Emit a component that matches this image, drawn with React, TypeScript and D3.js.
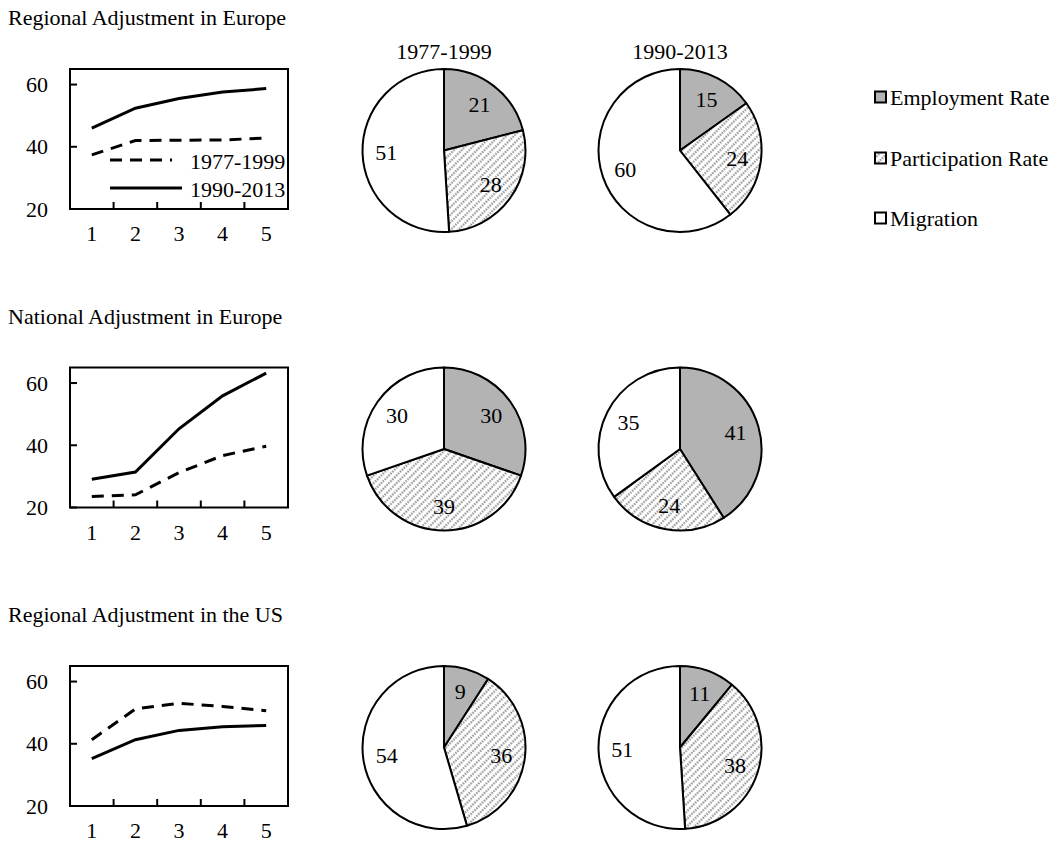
import React from "react";
import * as d3 from "d3";

// ---------- data ----------
const panelTitles = [
  "Regional Adjustment in Europe",
  "National Adjustment in Europe",
  "Regional Adjustment in the US",
];
const periods = ["1977-1999", "1990-2013"];
const components = ["Employment Rate", "Participation Rate", "Migration"];
const xCategories = [1, 2, 3, 4, 5];
const yTicks = [20, 40, 60];

// line series (period 1977-1999 dashed, 1990-2013 solid)
const regionalEurope1977 = [37.4, 42.0, 42.1, 42.2, 42.8];
const regionalEurope1990 = [46.0, 52.4, 55.5, 57.6, 58.7];
const nationalEurope1977 = [23.5, 24.1, 31.2, 36.7, 39.7];
const nationalEurope1990 = [29.1, 31.4, 45.3, 55.9, 63.2];
const regionalUS1977 = [41.3, 51.2, 53.0, 52.0, 50.6];
const regionalUS1990 = [35.2, 41.3, 44.3, 45.5, 45.9];

// pie shares: employment, participation, migration
const pieRegionalEurope1977 = [21, 28, 51];
const pieRegionalEurope1990 = [15, 24, 60];
const pieNationalEurope1977 = [30, 39, 30];
const pieNationalEurope1990 = [41, 24, 35];
const pieRegionalUS1977 = [9, 36, 54];
const pieRegionalUS1990 = [11, 38, 51];

const lineSeries = [
  [regionalEurope1977, regionalEurope1990],
  [nationalEurope1977, nationalEurope1990],
  [regionalUS1977, regionalUS1990],
];
const pieSeries = [
  [pieRegionalEurope1977, pieRegionalEurope1990],
  [pieNationalEurope1977, pieNationalEurope1990],
  [pieRegionalUS1977, pieRegionalUS1990],
];

// ---------- layout ----------
const FONT = "'Liberation Serif', 'Times New Roman', serif";
const FS = 22;
const ROW_STEP = 298.5;
const BOX = { left: 70, right: 288, top: 69, bottom: 209 };
const PIE_CX = [444, 680];
const PIE_CY = 150.5;
const PIE_R = 81.5;
const GRAY = "#b3b3b3";

function LinePanel({ row }: { row: number }) {
  const dy = row * ROW_STEP;
  const x = d3
    .scaleBand<number>()
    .domain(xCategories)
    .range([BOX.left, BOX.right])
    .padding(0);
  const y = d3
    .scaleLinear()
    .domain([20, 65])
    .range([BOX.bottom + dy, BOX.top + dy]);
  const line = d3
    .line<number>()
    .x((_, i) => (x(xCategories[i]) as number) + x.bandwidth() / 2)
    .y((v) => y(v));
  const [s77, s90] = lineSeries[row];
  return (
    <g>
      <text x={8} y={25 + dy} fontSize={FS} fontFamily={FONT}>
        {panelTitles[row]}
      </text>
      <rect
        x={BOX.left}
        y={BOX.top + dy}
        width={BOX.right - BOX.left}
        height={BOX.bottom - BOX.top}
        fill="white"
        stroke="black"
        strokeWidth={2}
      />
      {yTicks.map((t) => (
        <g key={t}>
          <line x1={BOX.left} x2={BOX.left + 7} y1={y(t)} y2={y(t)} stroke="black" strokeWidth={2} />
          <text
            x={48}
            y={y(t) + 7.5}
            textAnchor="end"
            fontSize={FS}
            fontFamily={FONT}
          >
            {t}
          </text>
        </g>
      ))}
      {xCategories.slice(1).map((c) => (
        <line
          key={c}
          x1={x(c)}
          x2={x(c)}
          y1={BOX.bottom + dy}
          y2={BOX.bottom + dy - 7}
          stroke="black"
          strokeWidth={2}
        />
      ))}
      {xCategories.map((c) => (
        <text
          key={c}
          x={(x(c) as number) + x.bandwidth() / 2}
          y={BOX.bottom + dy + 32}
          textAnchor="middle"
          fontSize={FS}
          fontFamily={FONT}
        >
          {c}
        </text>
      ))}
      <path d={line(s77) || ""} fill="none" stroke="black" strokeWidth={3} strokeDasharray="12,8" />
      <path d={line(s90) || ""} fill="none" stroke="black" strokeWidth={3} />
      {row === 0 && (
        <g>
          <line x1={110} x2={172} y1={160} y2={160} stroke="black" strokeWidth={3} strokeDasharray="12,8" />
          <text x={190} y={169} fontSize={FS} fontFamily={FONT}>
            {periods[0]}
          </text>
          <line x1={110} x2={182} y1={188} y2={188} stroke="black" strokeWidth={3} />
          <text x={190} y={197} fontSize={FS} fontFamily={FONT}>
            {periods[1]}
          </text>
        </g>
      )}
    </g>
  );
}

const fills = [GRAY, "url(#hatch)", "white"];

function PiePanel({ row, col }: { row: number; col: number }) {
  const cx = PIE_CX[col];
  const cy = PIE_CY + row * ROW_STEP;
  const values = pieSeries[row][col];
  const pie = d3
    .pie<number>()
    .sort(null)
    .startAngle(0)
    .endAngle(2 * Math.PI);
  const arcs = pie(values);
  const arc = d3.arc<d3.PieArcDatum<number>>().innerRadius(0).outerRadius(PIE_R);
  const labelArc = d3
    .arc<d3.PieArcDatum<number>>()
    .innerRadius(PIE_R * 0.71)
    .outerRadius(PIE_R * 0.71);
  return (
    <g transform={`translate(${cx},${cy})`}>
      {row === 0 && (
        <text x={0} y={-PIE_R - 10} textAnchor="middle" fontSize={FS} fontFamily={FONT}>
          {periods[col]}
        </text>
      )}
      {arcs.map((a, i) => (
        <path key={i} d={arc(a) || ""} fill={fills[i]} stroke="black" strokeWidth={2} strokeLinejoin="round" />
      ))}
      {arcs.map((a, i) => {
        const [lx, ly] = labelArc.centroid(a);
        return (
          <text
            key={"t" + i}
            x={lx}
            y={ly}
            textAnchor="middle"
            dominantBaseline="central"
            fontSize={FS}
            fontFamily={FONT}
          >
            {a.data}
          </text>
        );
      })}
    </g>
  );
}

function Legend() {
  const ys = [97, 158, 218];
  return (
    <g>
      {components.map((c, i) => (
        <g key={c}>
          <rect x={875} y={ys[i] - 5.5} width={11} height={11} fill={fills[i]} stroke="black" strokeWidth={2} />
          <text x={890} y={ys[i]} dominantBaseline="central" fontSize={FS} fontFamily={FONT}>
            {c}
          </text>
        </g>
      ))}
    </g>
  );
}

export default function App() {
  return (
    <svg
      width={1056}
      height={850}
      style={{ position: "absolute", left: 0, top: 0, background: "white" }}
    >
      <defs>
        <pattern
          id="hatch"
          patternUnits="userSpaceOnUse"
          width={5.4}
          height={5.4}
          patternTransform="rotate(45)"
        >
          <rect width={5.4} height={5.4} fill="white" />
          <line x1={1.4} y1={0} x2={1.4} y2={5.4} stroke="#8a8a8a" strokeWidth={2} strokeDasharray="1.6,1.1" />
        </pattern>
      </defs>
      <rect width={1056} height={850} fill="white" />
      {[0, 1, 2].map((r) => (
        <g key={r}>
          <LinePanel row={r} />
          <PiePanel row={r} col={0} />
          <PiePanel row={r} col={1} />
        </g>
      ))}
      <Legend />
    </svg>
  );
}
